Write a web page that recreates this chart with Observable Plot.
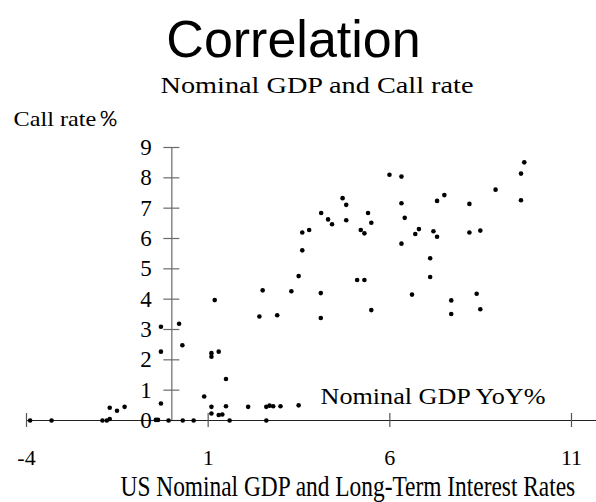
<!DOCTYPE html>
<html>
<head>
<meta charset="utf-8">
<script src="https://cdn.jsdelivr.net/npm/d3@7"></script>
<script src="https://cdn.jsdelivr.net/npm/@observablehq/plot@0.6"></script>
<style>
  html, body { margin: 0; padding: 0; background: #fff; }
  #chart svg { display: block; }
</style>
</head>
<body>
<div id="chart"></div>
<script>
// Nominal GDP YoY% (x) and Call rate% (y)
const gdpYoY = [-3.90, -3.31, -1.91, -1.79, -1.71, -1.71, -1.51, -1.30, -0.30, -0.30,
  -0.30, 0.20, 0.29, -0.44, -0.38, -0.09, 0.30, 0.60, 1.18, 1.09,
  1.09, 1.29, 1.49, 0.89, 1.09, 1.09, 1.29, 1.39, 1.49, 1.59,
  2.10, 2.60, 2.69, 2.79, 2.99, 3.49, 2.60, 2.41, 2.90, 4.10,
  5.49, 2.50, 3.29, 4.10, 5.99, 4.70, 4.80, 4.11, 4.30, 4.41,
  4.80, 5.40, 5.49, 5.20, 5.30, 3.59, 3.78, 3.59, 3.49, 5.10,
  5.30, 6.32, 6.32, 6.41, 6.80, 6.70, 7.20, 7.30, 7.30, 7.50,
  8.19, 8.19, 8.49, 8.91, 9.61, 9.70, 9.61, 6.32, 7.11, 7.11,
  6.61, 8.39, 7.69, 8.49, 7.69];
const callRate = [0.00, 0.00, 0.00, 0.00, 0.05, 0.42, 0.32, 0.45, 0.56, 3.09,
  2.27, 3.19, 2.48, 0.02, 0.02, 0.00, 0.00, 0.00, 3.97, 2.22,
  2.10, 2.27, 1.37, 0.79, 0.45, 0.23, 0.18, 0.20, 0.47, 0.00,
  0.45, 0.45, 0.49, 0.47, 0.47, 0.50, 0.00, 3.43, 3.47, 3.38,
  3.64, 4.29, 4.26, 4.20, 8.10, 7.33, 7.11, 6.84, 6.63, 6.47,
  6.60, 6.84, 6.52, 6.28, 6.17, 6.20, 6.28, 5.61, 4.76, 4.63,
  4.63, 8.04, 7.16, 6.68, 6.31, 6.15, 6.24, 6.06, 7.24, 7.43,
  7.14, 6.20, 6.26, 7.61, 8.14, 8.51, 7.26, 5.83, 5.35, 4.73,
  4.15, 4.18, 3.96, 3.67, 3.51];

const xTicks = [-4, 1, 6, 11];
const yTicks = [0, 1, 2, 3, 4, 5, 6, 7, 8, 9];

const titleText = "Correlation";
const subtitleText = "Nominal GDP and Call rate";
const yLabelText = "Call rate％";
const xInnerLabelText = "Nominal GDP YoY%";
const xTitleText = "US Nominal GDP and Long-Term Interest Rates";

const points = gdpYoY.map((x, i) => ({x, y: callRate[i]}));

const W = 596, H = 502;
const mL = 26, mR = 25, mT = 147, mB = 82;
const serif = "'Liberation Serif', 'Times New Roman', serif";
const sans = "'Liberation Sans', Arial, sans-serif";

// helper: text placed relative to the frame's top-left corner, baseline at given pixel
function label(str, px, py, opts) {
  return Plot.text([str], {
    text: d => d,
    frameAnchor: "top-left",
    dx: px - mL,
    dy: py - mT,
    lineAnchor: "bottom",
    fill: "black",
    ...opts
  });
}

const chart = Plot.plot({
  width: W,
  height: H,
  marginLeft: mL,
  marginRight: mR,
  marginTop: mT,
  marginBottom: mB,
  style: {background: "white", overflow: "visible"},
  x: {domain: [-4, 11], axis: null},
  y: {domain: [0, 9], axis: null},
  marks: [
    // y axis line at x = 0
    Plot.ruleX([0], {y1: 0, y2: 9, stroke: "#6a6a6a", strokeWidth: 1.2}),
    // y ticks
    Plot.ruleY(yTicks, {x1: 0, x2: 0, insetLeft: -8, insetRight: -8, stroke: "#6a6a6a", strokeWidth: 1.2}),
    // x axis line at y = 0
    Plot.ruleY([0], {x1: -4, x2: 11.7, stroke: "#222", strokeWidth: 1.2}),
    // x ticks
    Plot.ruleX(xTicks, {y1: 0, y2: 0, insetTop: -7, insetBottom: -7, stroke: "#555", strokeWidth: 1.2}),
    // y tick labels
    Plot.text(yTicks, {x: 0, y: d => d, text: d => String(d), dx: -20, textAnchor: "end",
      fontFamily: serif, fontSize: 23, fill: "black"}),
    // x tick labels
    Plot.text(xTicks, {x: d => d, y: 0, text: d => String(d), dy: 44, lineAnchor: "bottom",
      fontFamily: serif, fontSize: 22, fill: "black"}),
    // points
    Plot.dot(points, {x: "x", y: "y", r: 2.3, fill: "black", stroke: "none"}),
    // texts
    label(titleText, 293, 56, {fontFamily: sans, fontSize: 52, textAnchor: "middle"}),
    label(subtitleText, 160, 92, {fontFamily: serif, fontSize: 24, textAnchor: "start"}),
    label(yLabelText, 13, 125, {fontFamily: serif, fontSize: 22, textAnchor: "start"}),
    label(xInnerLabelText, 320, 403, {fontFamily: serif, fontSize: 23, textAnchor: "start"}),
    label(xTitleText, 120, 495, {fontFamily: serif, fontSize: 23.4, textAnchor: "start"})
  ]
});

// fit some texts to the widths measured on the reference
const fitWidths = new Map([
  [subtitleText, 313],
  [yLabelText, 107],
  [xInnerLabelText, 225]
]);
d3.select(chart).selectAll("text").each(function() {
  const t = this.textContent;
  if (fitWidths.has(t)) {
    this.setAttribute("textLength", fitWidths.get(t));
    this.setAttribute("lengthAdjust", "spacingAndGlyphs");
  }
  if (t === xTitleText) {
    // the reference's bottom title is tall and narrow: stretch it vertically about its baseline
    const tr = this.getAttribute("transform") || "";
    this.setAttribute("transform", tr + " scale(1,1.25)");
  }
});

document.getElementById("chart").appendChild(chart);
</script>
</body>
</html>
